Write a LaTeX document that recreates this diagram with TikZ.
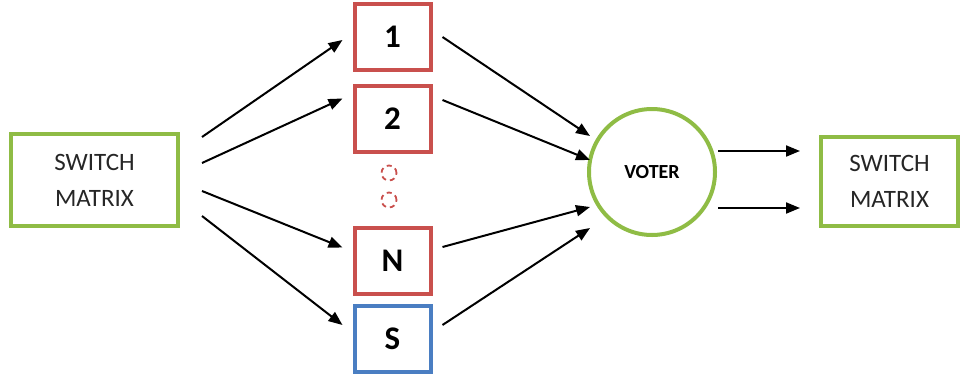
\documentclass[tikz,border=0pt]{standalone}
\usepackage{fontspec}
\setmainfont{Carlito}
\usetikzlibrary{arrows.meta}
\definecolor{sgreen}{HTML}{8FBC45}
\definecolor{sred}{HTML}{C9504D}
\definecolor{sblue}{HTML}{4A7EC2}
\tikzset{
  swbox/.style={draw=sgreen, line width=4pt, minimum width=167pt, minimum height=92pt, align=center, font=\fontsize{25}{36}\selectfont, text=black!85},
  modbox/.style={draw=sred, line width=4pt, minimum width=76pt, minimum height=66pt, font=\fontsize{33}{34}\selectfont\bfseries},
  sparebox/.style={modbox, draw=sblue},
  votercirc/.style={circle, draw=sgreen, line width=4pt, minimum size=126pt, inner sep=0pt, font=\fontsize{20}{22}\selectfont\bfseries},
  dotcirc/.style={circle, draw=sred, dashed, dash pattern=on 5pt off 4pt, line width=1.8pt, minimum size=15pt, inner sep=0pt},
  arr/.style={line width=2pt, -{Triangle[length=14pt,width=11pt]}}
}
\begin{document}
\begin{tikzpicture}[x=1pt,y=-1pt]
\useasboundingbox (0,0) rectangle (963,378);
\node[swbox] (L) at (94.5,180) {SWITCH\\MATRIX};
\node[modbox] (b1) at (392.5,37) {1};
\node[modbox] (b2) at (392.5,118.5) {2};
\node[modbox] (bn) at (392.5,260.5) {N};
\node[sparebox] (bs) at (392.5,339) {S};
\node[dotcirc] (d1) at (389,173) {};
\node[dotcirc] (d2) at (389,200) {};
\node[votercirc] (V) at (652,172) {VOTER};
\node[swbox, minimum width=137pt, minimum height=89pt] (R) at (889.5,181.5) {SWITCH\\MATRIX};
% left fan
\draw[arr] ([shift={(22,-43)}]L.east) -- ([shift={(-10,3)}]b1.west);
\draw[arr] ([shift={(22,-17)}]L.east) -- ([shift={(-10,-20)}]b2.west);
\draw[arr] ([shift={(22,11)}]L.east) -- ([shift={(-10,-13)}]bn.west);
\draw[arr] ([shift={(22,36)}]L.east) -- ([shift={(-10,-14)}]bs.west);
% to voter
\draw[arr] ([shift={(10,0)}]b1.east) -- ([shift={(-62,-36)}]V.center);
\draw[arr] ([shift={(10,-18.5)}]b2.east) -- ([shift={(-62,-12)}]V.center);
\draw[arr] ([shift={(10,-13.5)}]bn.east) -- ([shift={(-62,35)}]V.center);
\draw[arr] ([shift={(10,-14)}]bs.east) -- ([shift={(-62,56)}]V.center);
% voter out
\draw[arr] ([shift={(66,-21)}]V.center) -- ([shift={(-19,-30.5)}]R.west);
\draw[arr] ([shift={(66,36)}]V.center) -- ([shift={(-19,26.5)}]R.west);
\end{tikzpicture}
\end{document}
